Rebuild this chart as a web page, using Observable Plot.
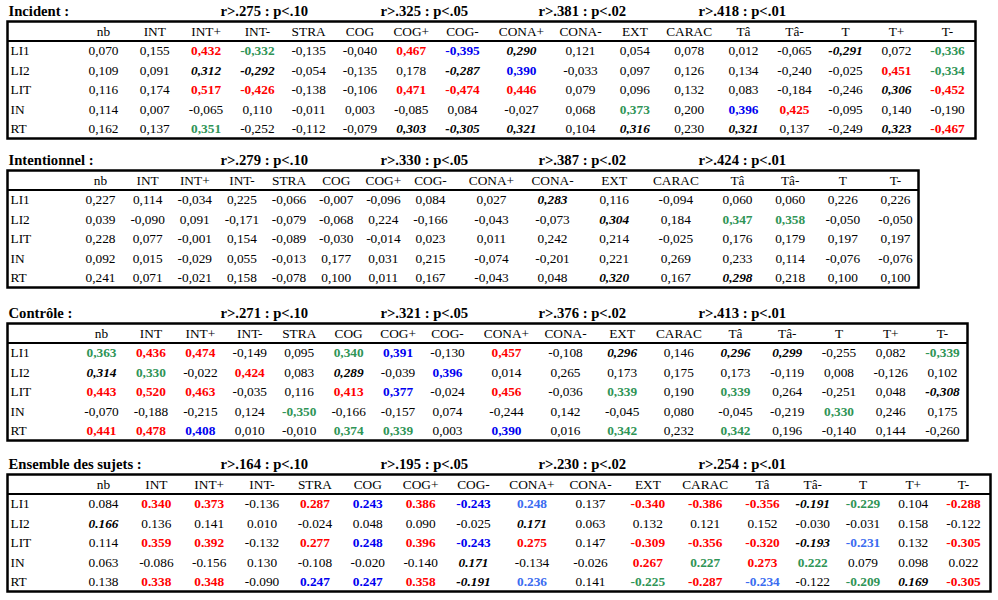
<!DOCTYPE html>
<html><head><meta charset="utf-8">
<script src="https://cdn.jsdelivr.net/npm/d3@7"></script>
<script src="https://cdn.jsdelivr.net/npm/@observablehq/plot@0.6"></script>
<style>body{margin:0;background:#fff;} svg{display:block;} svg text{font-family:"Liberation Serif","Times New Roman",serif;}</style>
</head><body><div id="chart"></div>
<script>
// ---------- DATA ----------
const rowLabels = ["LI1", "LI2", "LIT", "IN", "RT"];
const colsFull = ["nb","INT","INT+","INT-","STRA","COG","COG+","COG-","CONA+","CONA-","EXT","CARAC","Tâ","Tâ-","T","T+","T-"];
const colsIntent = ["nb","INT","INT+","INT-","STRA","COG","COG+","COG-","CONA+","CONA-","EXT","CARAC","Tâ","Tâ-","T","T-"];
const pLevels = ["p<.10", "p<.05", "p<.02", "p<.01"];

const incidentTitle = "Incident :";
const incidentThresholds = [0.275, 0.325, 0.381, 0.418];
const incidentValues = [
  [0.070, 0.155, 0.432, -0.332, -0.135, -0.040, 0.467, -0.395, 0.290, 0.121, 0.054, 0.078, 0.012, -0.065, -0.291, 0.072, -0.336],
  [0.109, 0.091, 0.312, -0.292, -0.054, -0.135, 0.178, -0.287, 0.390, -0.033, 0.097, 0.126, 0.134, -0.240, -0.025, 0.451, -0.334],
  [0.116, 0.174, 0.517, -0.426, -0.138, -0.106, 0.471, -0.474, 0.446, 0.079, 0.096, 0.132, 0.083, -0.184, -0.246, 0.306, -0.452],
  [0.114, 0.007, -0.065, 0.110, -0.011, 0.003, -0.085, 0.084, -0.027, 0.068, 0.373, 0.200, 0.396, 0.425, -0.095, 0.140, -0.190],
  [0.162, 0.137, 0.351, -0.252, -0.112, -0.079, 0.303, -0.305, 0.321, 0.104, 0.316, 0.230, 0.321, 0.137, -0.249, 0.323, -0.467]
];

const intentTitle = "Intentionnel :";
const intentThresholds = [0.279, 0.330, 0.387, 0.424];
const intentValues = [
  [0.227, 0.114, -0.034, 0.225, -0.066, -0.007, -0.096, 0.084, 0.027, 0.283, 0.116, -0.094, 0.060, 0.060, 0.226, 0.226],
  [0.039, -0.090, 0.091, -0.171, -0.079, -0.068, 0.224, -0.166, -0.043, -0.073, 0.304, 0.184, 0.347, 0.358, -0.050, -0.050],
  [0.228, 0.077, -0.001, 0.154, -0.089, -0.030, -0.014, 0.023, 0.011, 0.242, 0.214, -0.025, 0.176, 0.179, 0.197, 0.197],
  [0.092, 0.015, -0.029, 0.055, -0.013, 0.177, 0.031, 0.215, -0.074, -0.201, 0.221, 0.269, 0.233, 0.114, -0.076, -0.076],
  [0.241, 0.071, -0.021, 0.158, -0.078, 0.100, 0.011, 0.167, -0.043, 0.048, 0.320, 0.167, 0.298, 0.218, 0.100, 0.100]
];

const controlTitle = "Contrôle :";
const controlThresholds = [0.271, 0.321, 0.376, 0.413];
const controlValues = [
  [0.363, 0.436, 0.474, -0.149, 0.095, 0.340, 0.391, -0.130, 0.457, -0.108, 0.296, 0.146, 0.296, 0.299, -0.255, 0.082, -0.339],
  [0.314, 0.330, -0.022, 0.424, 0.083, 0.289, -0.039, 0.396, 0.014, 0.265, 0.173, 0.175, 0.173, -0.119, 0.008, -0.126, 0.102],
  [0.443, 0.520, 0.463, -0.035, 0.116, 0.413, 0.377, -0.024, 0.456, -0.036, 0.339, 0.190, 0.339, 0.264, -0.251, 0.048, -0.308],
  [-0.070, -0.188, -0.215, 0.124, -0.350, -0.166, -0.157, 0.074, -0.244, 0.142, -0.045, 0.080, -0.045, -0.219, 0.330, 0.246, 0.175],
  [0.441, 0.478, 0.408, 0.010, -0.010, 0.374, 0.339, 0.003, 0.390, 0.016, 0.342, 0.232, 0.342, 0.196, -0.140, 0.144, -0.260]
];

const allTitle = "Ensemble des sujets :";
const allThresholds = [0.164, 0.195, 0.230, 0.254];
const allValues = [
  [0.084, 0.340, 0.373, -0.136, 0.287, 0.243, 0.386, -0.243, 0.248, 0.137, -0.340, -0.386, -0.356, -0.191, -0.229, 0.104, -0.288],
  [0.166, 0.136, 0.141, 0.010, -0.024, 0.048, 0.090, -0.025, 0.171, 0.063, 0.132, 0.121, 0.152, -0.030, -0.031, 0.158, -0.122],
  [0.114, 0.359, 0.392, -0.132, 0.277, 0.248, 0.396, -0.243, 0.275, 0.147, -0.309, -0.356, -0.320, -0.193, -0.231, 0.132, -0.305],
  [0.063, -0.086, -0.156, 0.130, -0.108, -0.020, -0.140, 0.171, -0.134, -0.026, 0.267, 0.227, 0.273, 0.222, 0.079, 0.098, 0.022],
  [0.138, 0.338, 0.348, -0.090, 0.247, 0.247, 0.358, -0.191, 0.236, 0.141, -0.225, -0.287, -0.234, -0.122, -0.209, 0.169, -0.305]
];

// ---------- RENDERING ----------
const RED = "#ff0000", GREEN = "#2f9456", BLUE = "#0000f0", LBLUE = "#3b6cf0";
const FONT = "Liberation Serif, Times New Roman, serif";

function fmt(v, sep) {
  return (v < 0 ? "-" : "") + Math.abs(v).toFixed(3).replace(".", sep);
}
function level(v, th) {
  let l = -1;
  th.forEach((t, k) => { if (Math.abs(v) >= t - 1e-9) l = k; });
  return l;
}

function table(cfg, layout) {
  const n = cfg.cols.length;
  const cells = [];
  cfg.values.forEach((row, i) => row.forEach((v, j) =>
    cells.push({row: i + 1, col: j, v, lvl: level(v, cfg.th), text: fmt(v, cfg.sep)})));
  const colorOf = d => d.lvl === 1 ? GREEN : d.lvl === 3 ? RED :
    (cfg.lightFrom != null && d.col >= cfg.lightFrom ? LBLUE : BLUE);
  const thresholdMarks = cfg.th.map((t, k) =>
    Plot.text([`r>${t.toFixed(3).slice(1)} : ${pLevels[k]}`], {
      y: -1, frameAnchor: "left", dx: layout.thDx[k], textAnchor: "start",
      fontWeight: "bold", fontSize: 14.67, fontFamily: FONT
    }));
  const common = {x: "col", y: "row", text: "text", fontSize: 13.33, fontFamily: FONT};
  return Plot.plot({
    width: 998, height: layout.height,
    marginTop: 21, marginBottom: layout.height - 138, marginLeft: 7, marginRight: layout.right,
    x: {type: "linear", domain: [0, 7, 9, 12, n - 1], range: layout.xr, axis: null},
    y: {domain: [-0.5, 5.5], reverse: true, axis: null},
    color: {type: "identity"},
    style: {fontFamily: FONT, background: "#fff", overflow: "visible", color: "#000"},
    marks: [
      Plot.frame({stroke: "#000", strokeWidth: 2.5}),
      Plot.ruleY([0.5], {stroke: "#000", strokeWidth: 2}),
      Plot.text([cfg.title], {y: -1, frameAnchor: "left", dx: 1, textAnchor: "start", fontWeight: "bold", fontSize: 14.67, fontFamily: FONT}),
      ...thresholdMarks,
      Plot.text(cfg.cols, {x: (d, i) => i, y: 0, fontSize: 13.33, fontFamily: FONT}),
      Plot.text(rowLabels, {y: (d, i) => i + 1, frameAnchor: "left", dx: 3, textAnchor: "start", fontSize: 13.33, fontFamily: FONT}),
      Plot.text(cells.filter(d => d.lvl < 0), {...common, fill: "#000"}),
      Plot.text(cells.filter(d => d.lvl === 0), {...common, fill: "#000", fontWeight: "bold", fontStyle: "italic"}),
      Plot.text(cells.filter(d => d.lvl > 0), {...common, fill: colorOf, fontWeight: "bold"})
    ]
  });
}

const thDx = [213, 373, 531, 691];
const chart = document.getElementById("chart");
chart.append(
  table({title: incidentTitle, th: incidentThresholds, values: incidentValues, cols: colsFull, sep: ","},
        {height: 149, right: 23, xr: [103, 462, 580, 743, 947], thDx}),
  table({title: intentTitle, th: intentThresholds, values: intentValues, cols: colsIntent, sep: ","},
        {height: 153, right: 80, xr: [100, 430, 552, 737, 895], thDx}),
  table({title: controlTitle, th: controlThresholds, values: controlValues, cols: colsFull, sep: ","},
        {height: 151, right: 31, xr: [101, 447, 565, 735, 942], thDx}),
  table({title: allTitle, th: allThresholds, values: allValues, cols: colsFull, sep: ".", lightFrom: 8},
        {height: 147, right: 8, xr: [103, 473, 590, 762, 963], thDx})
);
</script>
</body></html>
